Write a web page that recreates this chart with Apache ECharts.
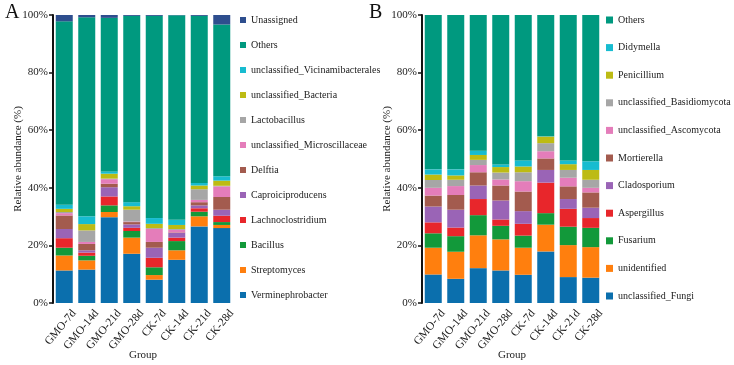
<!DOCTYPE html>
<html><head><meta charset="utf-8">
<script src="https://cdn.jsdelivr.net/npm/echarts@6/dist/echarts.min.js"></script>
<style>html,body{margin:0;padding:0;background:#fff}#c{width:734px;height:365px}</style>
</head><body><div id="c"></div>
<script>
const groups = ['GMO-7d','GMO-14d','GMO-21d','GMO-28d','CK-7d','CK-14d','CK-21d','CK-28d'];
const yTicks = [0,20,40,60,80,100];

// Panel A (bottom to top)
const namesA = ['Verminephrobacter','Streptomyces','Bacillus','Lachnoclostridium','Caproiciproducens','Delftia','unclassified_Microscillaceae','Lactobacillus','unclassified_Bacteria','unclassified_Vicinamibacterales','Others','Unassigned'];
const verminephrobacter = [11.3,11.6,29.8,17.1,8.1,15.0,26.6,26.0];
const streptomyces      = [5.2,3.2,1.8,5.6,1.6,3.3,3.5,1.1];
const bacillus          = [2.7,1.6,2.3,2.3,2.7,3.2,1.6,1.0];
const lachnoclostridium = [3.3,1.1,3.1,1.1,3.3,1.2,1.2,2.2];
const caproiciproducens = [3.2,0.8,3.2,1.2,3.5,1.6,1.0,2.1];
const delftia           = [4.7,2.2,1.2,0.8,2.0,0.2,1.1,4.4];
const microscillaceae   = [0.8,0.7,1.6,0.2,4.5,0.9,0.8,3.7];
const lactobacillus     = [0.4,4.0,0.2,4.1,0.3,0.3,3.7,0.2];
const bacteriaUncl      = [1.1,2.2,1.7,1.2,1.5,1.4,1.3,1.8];
const vicinamibacterales= [1.4,2.7,0.8,1.4,2.0,1.8,0.9,1.5];
const othersA           = [63.7,69.1,53.3,64.7,70.2,71.0,58.0,52.7];
const unassigned        = [2.2,0.8,1.0,0.3,0.3,0.1,0.3,3.3];
const dataA = [verminephrobacter,streptomyces,bacillus,lachnoclostridium,caproiciproducens,delftia,microscillaceae,lactobacillus,bacteriaUncl,vicinamibacterales,othersA,unassigned];

// Panel B (bottom to top)
const namesB = ['unclassified_Fungi','unidentified','Fusarium','Aspergillus','Cladosporium','Mortierella','unclassified_Ascomycota','unclassified_Basidiomycota','Penicillium','Didymella','Others '];
const fungiUncl   = [9.9,8.4,12.1,11.3,9.8,17.9,9.0,8.8];
const unidentified= [9.3,9.4,11.4,10.8,9.4,9.3,11.1,10.6];
const fusarium    = [5.0,5.4,7.0,4.7,4.2,4.0,6.4,6.7];
const aspergillus = [3.8,3.0,5.6,2.2,4.1,10.6,6.2,3.4];
const cladosporium= [5.5,6.2,4.7,6.6,4.4,4.4,3.4,3.6];
const mortierella = [3.8,5.1,4.6,5.2,6.8,4.0,4.4,5.3];
const ascomycota  = [2.7,3.1,2.5,2.1,3.6,2.5,3.0,1.6];
const basidiomycota=[2.7,2.2,1.8,2.4,3.1,2.8,2.7,2.8];
const penicillium = [1.9,1.5,1.7,1.9,2.0,2.3,2.0,3.4];
const didymella   = [1.8,2.1,1.5,0.9,2.1,0.1,1.3,3.0];
const othersB     = [53.6,53.6,47.1,51.9,50.5,42.1,50.5,50.8];
const dataB = [fungiUncl,unidentified,fusarium,aspergillus,cladosporium,mortierella,ascomycota,basidiomycota,penicillium,didymella,othersB];

const colA = ['#0B6FAD','#FF7F0E','#12993A','#E8262B','#9A64B6','#A35B4E','#E47DBA','#A6A6A6','#BDBB14','#17BCD0','#00997F','#2E4E8E'];
const colB = ['#0B6FAD','#FF7F0E','#12993A','#E8262B','#9A64B6','#A35B4E','#E47DBA','#A6A6A6','#BDBB14','#17BCD0','#00997F'];

const FONT = 'Liberation Serif';
const chart = echarts.init(document.getElementById('c'), null, {renderer:'canvas'});

function xAx(gi){return {type:'category',gridIndex:gi,data:groups,name:'Group',nameLocation:'middle',nameGap:47,nameMoveOverlap:false,
  nameTextStyle:{fontFamily:FONT,fontSize:11,color:'#222'},
  axisLine:{show:false},axisTick:{show:false},
  axisLabel:{rotate:50,fontFamily:FONT,fontSize:11.5,color:'#222',margin:0,interval:0,verticalAlign:'top',padding:[7,0,0,0]}};}
function yAx(gi){return {type:'value',gridIndex:gi,min:0,max:100,interval:20,
  name:'Relative abundance (%)',nameLocation:'middle',nameGap:29,nameMoveOverlap:false,
  nameTextStyle:{fontFamily:FONT,fontSize:11,color:'#222'},
  axisLine:{show:true,lineStyle:{color:'#111',width:2}},
  axisTick:{show:true,length:4,lineStyle:{color:'#111',width:1.5}},
  splitLine:{show:false},
  axisLabel:{formatter:'{value}%',fontFamily:FONT,fontSize:11,color:'#222',margin:5}};}

const series = [];
namesA.forEach((n,i)=>series.push({name:n,type:'bar',stack:'A',xAxisIndex:0,yAxisIndex:0,barWidth:17,data:dataA[i],itemStyle:{color:colA[i]}}));
namesB.forEach((n,i)=>series.push({name:n,type:'bar',stack:'B',xAxisIndex:1,yAxisIndex:1,barWidth:17,data:dataB[i],itemStyle:{color:colB[i]}}));

chart.setOption({
  animation:false,
  textStyle:{fontFamily:FONT},
  grid:[{left:53,top:15,width:180,height:288,containLabel:false,outerBoundsMode:'none'},
        {left:422,top:15,width:180,height:288,containLabel:false,outerBoundsMode:'none'}],
  xAxis:[xAx(0),xAx(1)],
  yAxis:[yAx(0),yAx(1)],
  legend:[
    {orient:'vertical',left:240,top:15,padding:0,itemWidth:6,itemHeight:6,itemGap:15,icon:'rect',
     data:namesA.slice().reverse(),textStyle:{fontFamily:FONT,fontSize:10,color:'#222'},selectedMode:false},
    {orient:'vertical',left:606,top:15,padding:0,itemWidth:7,itemHeight:7,itemGap:17.6,icon:'rect',
     data:namesB.slice().reverse(),textStyle:{fontFamily:FONT,fontSize:10,color:'#222'},selectedMode:false}
  ],
  graphic:[
    {type:'text',left:5,top:3,style:{text:'A',font:'20px "Liberation Serif"',fill:'#111'}},
    {type:'text',left:369,top:3,style:{text:'B',font:'20px "Liberation Serif"',fill:'#111'}}
  ],
  series:series
});
</script></body></html>
